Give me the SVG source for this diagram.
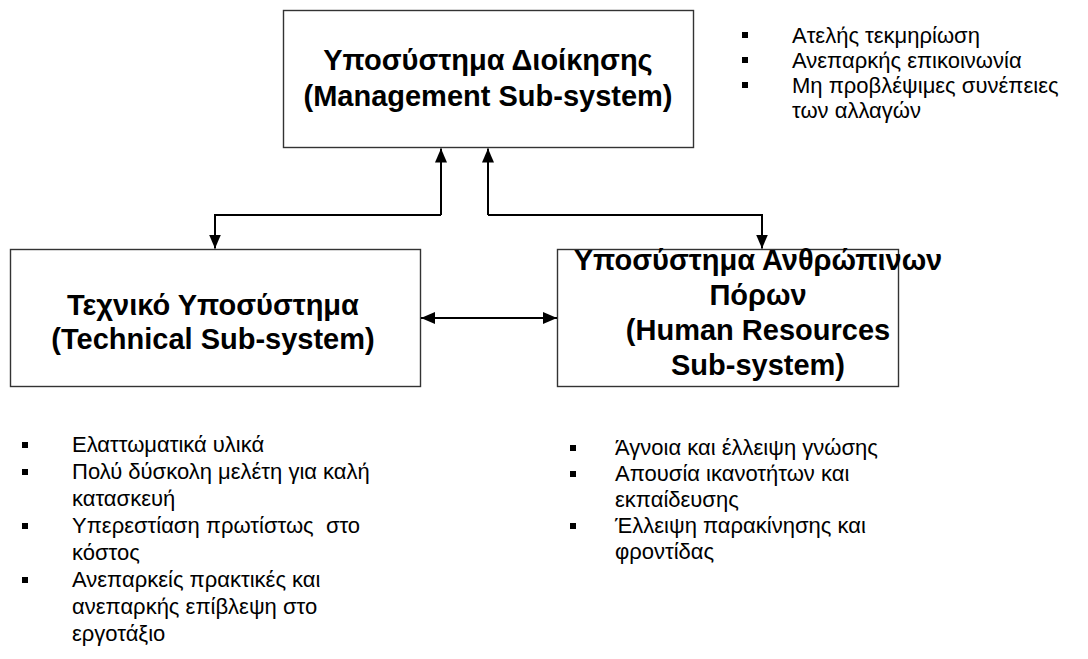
<svg xmlns="http://www.w3.org/2000/svg" width="1088" height="659" viewBox="0 0 1088 659">
  <style>
    .box { fill: #ffffff; stroke: #333333; stroke-width: 1.4; }
    .title { font-family: "Liberation Sans", Arial, sans-serif; font-weight: bold; font-size: 29px; fill: #000000; text-anchor: middle; }
    .item { font-family: "Liberation Sans", Arial, sans-serif; font-size: 22px; fill: #000000; }
    .link { fill: none; stroke: #000000; stroke-width: 2; }
    .dot { fill: #000000; }
  </style>
  <defs>
    <marker id="head" viewBox="0 0 14 12" refX="14" refY="6" markerWidth="14" markerHeight="12" markerUnits="userSpaceOnUse" orient="auto-start-reverse">
      <path d="M0,0 L14,6 L0,12 Z" fill="#000000"/>
    </marker>
  </defs>

  <rect width="1088" height="659" fill="#ffffff"/>

  <!-- Management sub-system -->
  <g id="management">
    <rect class="box" x="283.5" y="10.5" width="410" height="137"/>
    <text class="title" x="488" y="70">Υποσύστημα Διοίκησης</text>
    <text class="title" x="488" y="106">(Management Sub-system)</text>
  </g>

  <!-- Technical sub-system -->
  <g id="technical">
    <rect class="box" x="10.5" y="249.5" width="410" height="137"/>
    <text class="title" x="213" y="315">Τεχνικό Υποσύστημα</text>
    <text class="title" x="213" y="349">(Technical Sub-system)</text>
  </g>

  <!-- Human resources sub-system -->
  <g id="human-resources">
    <rect class="box" x="557.5" y="249.5" width="341" height="137"/>
    <text class="title" x="758" y="270">Υποσύστημα Ανθρώπινων</text>
    <text class="title" x="758" y="305">Πόρων</text>
    <text class="title" x="758" y="340">(Human Resources</text>
    <text class="title" x="758" y="375">Sub-system)</text>
  </g>

  <!-- Connectors between the three sub-systems -->
  <g id="connectors">
    <path class="link" d="M441,215 V148.5" marker-end="url(#head)"/>
    <path class="link" d="M441,215 H215 V248.5" marker-end="url(#head)"/>
    <path class="link" d="M488,215 V148.5" marker-end="url(#head)"/>
    <path class="link" d="M488,215 H762 V248.5" marker-end="url(#head)"/>
    <path class="link" d="M421,318 H557" marker-start="url(#head)" marker-end="url(#head)"/>
  </g>

  <!-- Management issues -->
  <g id="management-issues">
    <rect class="dot" x="742" y="32" width="6" height="6"/>
    <rect class="dot" x="742" y="57" width="6" height="6"/>
    <rect class="dot" x="742" y="82" width="6" height="6"/>
    <text class="item" x="792" y="43">Ατελής τεκμηρίωση</text>
    <text class="item" x="792" y="68">Ανεπαρκής επικοινωνία</text>
    <text class="item" x="792" y="93">Μη προβλέψιμες συνέπειες</text>
    <text class="item" x="792" y="118">των αλλαγών</text>
  </g>

  <!-- Technical issues -->
  <g id="technical-issues">
    <rect class="dot" x="22" y="442" width="6" height="6"/>
    <rect class="dot" x="22" y="469" width="6" height="6"/>
    <rect class="dot" x="22" y="523" width="6" height="6"/>
    <rect class="dot" x="22" y="577" width="6" height="6"/>
    <text class="item" x="72" y="452">Ελαττωματικά υλικά</text>
    <text class="item" x="72" y="479">Πολύ δύσκολη μελέτη για καλή</text>
    <text class="item" x="72" y="506">κατασκευή</text>
    <text class="item" x="72" y="533" xml:space="preserve">Υπερεστίαση πρωτίστως  στο</text>
    <text class="item" x="72" y="560">κόστος</text>
    <text class="item" x="72" y="587">Ανεπαρκείς πρακτικές και</text>
    <text class="item" x="72" y="614">ανεπαρκής επίβλεψη στο</text>
    <text class="item" x="72" y="641">εργοτάξιο</text>
  </g>

  <!-- Human resources issues -->
  <g id="human-resources-issues">
    <rect class="dot" x="570" y="445" width="6" height="6"/>
    <rect class="dot" x="570" y="471" width="6" height="6"/>
    <rect class="dot" x="570" y="523" width="6" height="6"/>
    <text class="item" x="615" y="455">Άγνοια και έλλειψη γνώσης</text>
    <text class="item" x="615" y="481">Απουσία ικανοτήτων και</text>
    <text class="item" x="615" y="507">εκπαίδευσης</text>
    <text class="item" x="615" y="533">Έλλειψη παρακίνησης και</text>
    <text class="item" x="615" y="559">φροντίδας</text>
  </g>
</svg>
